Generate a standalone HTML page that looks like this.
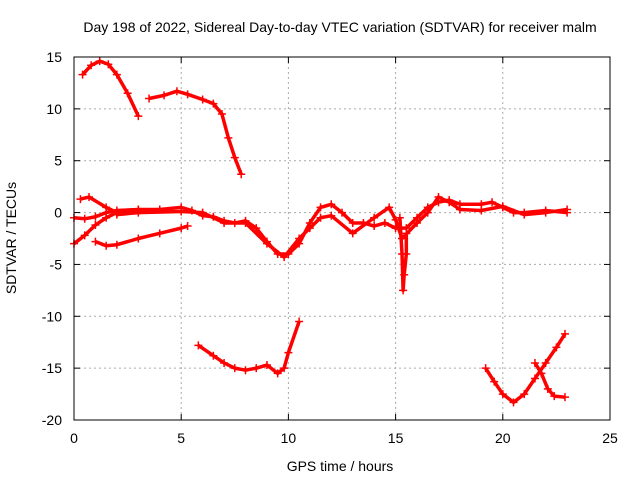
<!DOCTYPE html>
<html><head><meta charset="utf-8"><style>
body{margin:0;background:#fff}
svg text{font-family:"Liberation Sans",sans-serif;font-size:14px;fill:#000}
</style></head><body>
<svg id="chart" width="640" height="480">
<text x="340" y="32" text-anchor="middle">Day 198 of 2022, Sidereal Day-to-day VTEC variation (SDTVAR) for receiver malm</text>
<text x="340" y="471" text-anchor="middle">GPS time / hours</text>
<text transform="translate(16,238) rotate(-90)" text-anchor="middle">SDTVAR / TECUs</text>
<g id="grid"></g><g id="ticks"></g><g id="series"></g>
<rect x="74" y="57" width="536" height="363" fill="none" stroke="#000"/>
</svg>
<script>
const xTicks=[0,5,10,15,20,25];
const yTicks=[15,10,5,0,-5,-10,-15,-20];
const s1=[[0.4,13.3],[0.8,14.2],[1.2,14.6],[1.6,14.3],[2.0,13.3],[2.5,11.5],[3.0,9.3]];
const s2=[[3.5,11.0],[4.2,11.3],[4.8,11.7],[5.3,11.4],[6.0,10.9],[6.5,10.5],[6.9,9.5],[7.2,7.2],[7.5,5.3],[7.8,3.7]];
const s3=[[0,-0.5],[0.5,-0.6],[1,-0.4],[1.5,0],[2,0.2],[3,0.3],[4,0.3],[5,0.5],[5.5,0.2],[6,-0.3],[6.5,-0.4],[7,-0.8],[7.5,-1],[8,-0.8],[8.5,-1.5],[9,-2.8],[9.5,-4],[10,-4],[10.5,-3],[11,-1],[11.5,0.5],[12,0.8],[12.5,0],[13,-1],[13.5,-1],[14,-1.3],[14.5,-1],[15,-1.5],[15.5,-1.5],[16,-0.5],[16.5,0.5],[17,1],[17.5,1.2],[18,0.8],[19,0.8],[19.5,1],[20,0.5],[20.5,0],[21,0],[22,0.2],[23,0]];
const s4=[[0,-3],[0.5,-2.2],[1,-1.2],[1.5,-0.5],[2,0]];
const s5=[[0.3,1.3],[0.7,1.5],[1.5,0.5],[2,0],[3,0.2]];
const s6=[[1,-2.8],[1.5,-3.2],[2,-3.1],[3,-2.5],[4,-2],[5,-1.5],[5.3,-1.3]];
const s7=[[2,-0.2],[3,0],[5,0.1],[6,0],[7,-1],[8,-1],[9,-3],[9.8,-4.3],[10.5,-2.5],[11,-1.5],[11.5,-0.5],[12,-0.3],[13,-2],[14,-0.5],[14.7,0.5],[15,-0.7],[15.3,-2.5],[16,-1],[16.5,0],[17,1.5],[17.5,1],[18,0.3],[19,0.2],[20,0.6],[21,-0.2],[22,0],[23,0.3]];
const s8=[[15.2,-0.5],[15.3,-4],[15.35,-7.5],[15.4,-6],[15.5,-4],[15.5,-2]];
const s9=[[5.8,-12.8],[6.5,-13.8],[7,-14.5],[7.5,-15],[8,-15.2],[8.5,-15],[9,-14.7],[9.5,-15.5],[9.8,-15],[10,-13.5],[10.5,-10.5]];
const s10=[[19.2,-15],[19.6,-16.3],[20,-17.5],[20.5,-18.3],[21,-17.5],[21.5,-16],[22,-14.5],[22.5,-13],[22.9,-11.7]];
const s11=[[21.5,-14.5],[21.8,-15.5],[22.1,-17],[22.4,-17.7],[22.9,-17.8]];
const allSeries=[s1,s2,s3,s4,s5,s6,s7,s8,s9,s10,s11];
const NS='http://www.w3.org/2000/svg';
function xs(v){return 74+v*(536/25);}
function ys(v){return 420-(v+20)*(363/35);}
const grid=document.getElementById('grid'),ticks=document.getElementById('ticks'),ser=document.getElementById('series');
function mk(t,a,p){const e=document.createElementNS(NS,t);for(const k in a)e.setAttribute(k,a[k]);p.appendChild(e);return e;}
xTicks.forEach(v=>{const x=xs(v);
 if(v>0&&v<25){const g=mk('line',{x1:x,x2:x,y1:57,y2:420,stroke:'#aaa','stroke-dasharray':'2,3'},grid);
 
 }
 const t=mk('text',{x:x,y:443,'text-anchor':'middle'},ticks);t.textContent=v;
 
 
 mk('line',{x1:x,x2:x,y1:420,y2:414,stroke:'#000'},ticks);mk('line',{x1:x,x2:x,y1:57,y2:63,stroke:'#000'},ticks);});
yTicks.forEach(v=>{const y=ys(v);
 if(v<15&&v>-20){const g=mk('line',{x1:74,x2:610,y1:y,y2:y,stroke:'#aaa','stroke-dasharray':'2,3'},grid);
 
 }
 const t=mk('text',{x:62,y:y+5,'text-anchor':'end'},ticks);t.textContent=v;
 
 
 mk('line',{x1:74,x2:80,y1:y,y2:y,stroke:'#000'},ticks);mk('line',{x1:604,x2:610,y1:y,y2:y,stroke:'#000'},ticks);});
allSeries.forEach((s,i)=>{
 const pl=mk('polyline',{points:s.map(p=>xs(p[0])+','+ys(p[1])).join(' '),fill:'none',stroke:'#f00','stroke-width':3.5,'stroke-linejoin':'round'},ser);
 
 
 s.forEach(p=>{const x=xs(p[0]),y=ys(p[1]);
  const m=mk('path',{d:`M${x-4},${y}H${x+4}M${x},${y-4}V${y+4}`,stroke:'#f00','stroke-width':1.5},ser);
  
  });
});
</script>
</body></html>
